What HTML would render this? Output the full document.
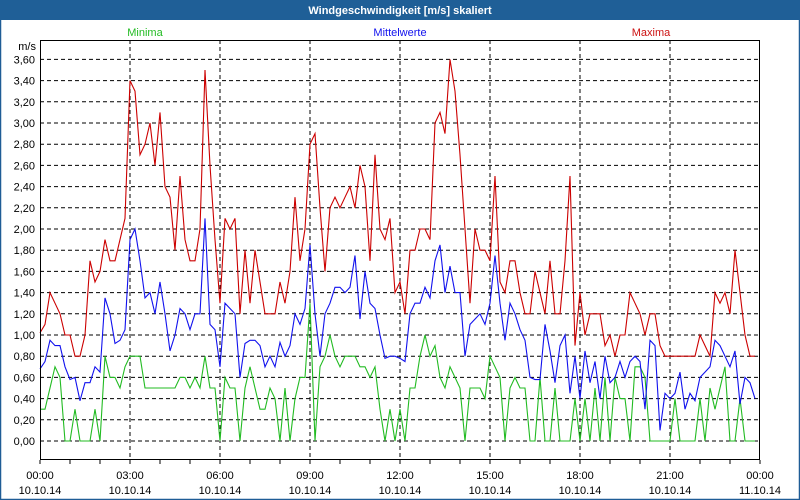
<!DOCTYPE html>
<html><head><meta charset="utf-8"><style>
html,body{margin:0;padding:0;background:#fff;}
body{width:800px;height:500px;overflow:hidden;font-family:"Liberation Sans",sans-serif;}
</style></head><body>
<svg id="c" width="800" height="500" xmlns="http://www.w3.org/2000/svg" style="display:block;font-family:'Liberation Sans',sans-serif">
<rect x="0.5" y="0.5" width="799" height="499" fill="#fff" stroke="#1f5c96" stroke-width="1.5"/>
<rect x="0" y="0" width="800" height="20" fill="#1f5f97"/>
<text x="400" y="14" text-anchor="middle" fill="#fff" font-size="11" font-weight="bold">Windgeschwindigkeit [m/s] skaliert</text>
<text x="145" y="36" text-anchor="middle" fill="#22bb22" font-size="11">Minima</text>
<text x="400" y="36" text-anchor="middle" fill="#1111ee" font-size="11">Mittelwerte</text>
<text x="651" y="36" text-anchor="middle" fill="#cc1111" font-size="11">Maxima</text>
<text x="36" y="50" text-anchor="end" font-size="11" fill="#000">m/s</text>
<g id="grid"></g><g id="series"></g><g id="axes"></g>
</svg>
<script>
const yTicks=[0,0.2,0.4,0.6,0.8,1.0,1.2,1.4,1.6,1.8,2.0,2.2,2.4,2.6,2.8,3.0,3.2,3.4,3.6];
const xTickHours=[0,3,6,9,12,15,18,21,24];
const xTickTimes=["00:00","03:00","06:00","09:00","12:00","15:00","18:00","21:00","00:00"];
const xTickDates=["10.10.14","10.10.14","10.10.14","10.10.14","10.10.14","10.10.14","10.10.14","10.10.14","11.10.14"];
const maxima=[1.02,1.1,1.4,1.3,1.2,1.0,1.0,0.8,0.8,1.0,1.7,1.5,1.6,1.9,1.7,1.7,1.9,2.1,3.4,3.3,2.7,2.8,3.0,2.6,3.1,2.4,2.3,1.8,2.5,1.9,1.7,1.7,2.0,3.5,2.6,1.9,1.3,2.1,2.0,2.1,1.2,1.8,1.3,1.8,1.5,1.2,1.2,1.2,1.5,1.3,1.6,2.3,1.7,2.0,2.8,2.9,2.2,1.6,2.2,2.3,2.2,2.3,2.4,2.2,2.6,2.4,1.7,2.7,2.0,1.9,2.1,1.4,1.5,1.2,1.8,1.8,2.0,2.0,1.9,3.0,3.1,2.9,3.6,3.3,2.7,2.0,1.3,2.0,1.8,1.8,1.7,2.5,1.5,1.4,1.7,1.7,1.4,1.2,1.2,1.6,1.4,1.2,1.7,1.2,1.2,1.7,2.5,0.9,1.4,1.0,1.2,1.2,1.2,0.9,1.0,0.8,1.0,1.0,1.4,1.3,1.2,1.0,1.2,1.2,0.9,0.8,0.8,0.8,0.8,0.8,0.8,0.8,1.0,0.9,0.8,1.4,1.3,1.4,1.2,1.8,1.4,1.0,0.8,0.8];
const mittel=[0.68,0.75,0.95,0.9,0.9,0.7,0.58,0.6,0.38,0.55,0.55,0.7,0.65,1.35,1.2,0.92,0.95,1.05,1.9,2.0,1.7,1.35,1.4,1.2,1.5,1.2,0.85,1.0,1.25,1.2,1.05,1.2,1.2,2.1,1.1,1.05,0.7,1.3,1.25,1.2,0.6,0.92,0.95,0.95,0.9,0.7,0.8,0.7,0.93,0.8,0.9,1.2,1.1,1.25,1.85,1.2,0.8,1.2,1.3,1.45,1.45,1.4,1.45,1.75,1.15,1.6,1.3,1.25,1.0,0.78,0.8,0.8,0.78,0.75,1.2,1.3,1.3,1.45,1.35,1.7,1.85,1.4,1.65,1.4,1.4,0.8,1.1,1.15,1.2,1.1,1.3,1.75,1.3,0.95,1.3,1.2,1.05,0.95,0.6,0.58,0.58,1.1,0.85,0.55,0.9,1.0,0.45,0.8,0.4,0.85,0.55,0.75,0.4,0.8,0.55,0.6,0.75,0.6,0.75,0.8,0.75,0.3,0.95,0.9,0.1,0.45,0.4,0.45,0.65,0.3,0.45,0.38,0.6,0.65,0.7,0.95,0.9,0.8,0.7,0.85,0.35,0.6,0.55,0.4];
const minima=[0.3,0.3,0.5,0.7,0.6,0,0,0.3,0,0,0,0.3,0,0.8,0.6,0.6,0.5,0.7,0.8,0.8,0.8,0.5,0.5,0.5,0.5,0.5,0.5,0.5,0.6,0.6,0.5,0.6,0.5,0.8,0.5,0.5,0,0.6,0.5,0.5,0,0.5,0.7,0.5,0.3,0.3,0.5,0.4,0,0.5,0,0.4,0.6,0.6,1.3,0,0.7,0.8,1.0,0.8,0.7,0.8,0.8,0.8,0.7,0.7,0.6,0.7,0.3,0,0.3,0,0.3,0,0.5,0.5,0.8,1.0,0.8,0.9,0.6,0.5,0.7,0.6,0.5,0,0.5,0.5,0.5,0.4,0.8,0.7,0.6,0,0.5,0.6,0.5,0.5,0,0,0.6,0,0,0.5,0,0,0,0.4,0,0.4,0,0.5,0,0.6,0,0.6,0.4,0.4,0,0.7,0.7,0.6,0,0,0,0,0,0.4,0,0,0,0,0.4,0,0.5,0.3,0.5,0.7,0,0,0.4,0,0,0];
const stepMinutes=10;

const NS="http://www.w3.org/2000/svg";
const L=40,R=760,T=40,B=460,Y0=441,PX_PER_UNIT=106;
const xH=h=>L+h*(R-L)/24;
const xI=i=>xH(i*stepMinutes/60);
const yV=v=>Y0-v*PX_PER_UNIT;
function mk(tag,attrs,parent){const e=document.createElementNS(NS,tag);for(const k in attrs)e.setAttribute(k,attrs[k]);parent.appendChild(e);return e;}
const grid=document.getElementById('grid'),ser=document.getElementById('series'),axes=document.getElementById('axes');
yTicks.forEach((v,i)=>{
  const l=mk('line',{x1:L,x2:R,y1:yV(v),y2:yV(v),stroke:'#000','stroke-dasharray':'4,3','stroke-width':1},grid);
  
  
  const t=mk('text',{x:35,y:yV(v)+4,'text-anchor':'end','font-size':11,fill:'#000'},axes);
  
  
  t.textContent=v.toFixed(2).replace('.',',');
});
xTickHours.forEach((h,i)=>{
  if(h>0&&h<24){const l=mk('line',{x1:xH(h),x2:xH(h),y1:T,y2:B,stroke:'#000','stroke-dasharray':'4,3','stroke-width':1},grid);
  
  }
  const t=mk('text',{x:xH(h),y:479,'text-anchor':'middle','font-size':11,fill:'#000'},axes);
  
  
  t.textContent=xTickTimes[i];
  const d=mk('text',{x:xH(h),y:494,'text-anchor':'middle','font-size':11,fill:'#000'},axes);
  
  
  d.textContent=xTickDates[i];
});
for(let h=0;h<=24;h++){const m=mk('line',{x1:xH(h),x2:xH(h),y1:B,y2:B+4,stroke:'#000'},axes);
  
  }
const box=mk('rect',{x:L+0.5,y:T+0.5,width:R-L-1,height:B-T-1,fill:'none',stroke:'#000','stroke-width':1},axes);


[[minima,'#22bb22','series-minima'],[mittel,'#1111ee','series-mittelwerte'],[maxima,'#cc0000','series-maxima']].forEach(([arr,col,name])=>{
  const p=mk('polyline',{points:arr.map((v,i)=>xI(i)+','+yV(v)).join(' '),fill:'none',stroke:col,'stroke-width':1.1},ser);
  
  
});
</script>
</body></html>
